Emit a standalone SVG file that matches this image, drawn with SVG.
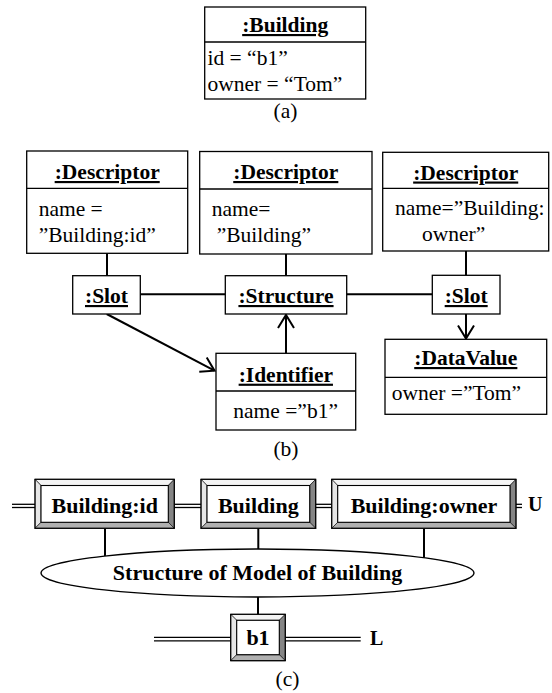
<svg xmlns="http://www.w3.org/2000/svg" width="552" height="693" viewBox="0 0 552 693">
  <style>
    text { font-family: "Liberation Serif", "Times New Roman", serif; font-size: 21.5px; fill: #000; }
    .hd { font-weight: bold; text-anchor: middle; text-decoration: underline; }
    .bd { font-weight: bold; text-anchor: middle; font-size: 22px; }
    .cap { text-anchor: middle; }
    .tag { font-weight: bold; font-size: 20px; }
    .box { fill: #fff; stroke: #000; stroke-width: 1.3; }
    .div { stroke: #000; stroke-width: 1.3; }
    .conn { stroke: #000; stroke-width: 2; fill: none; }
    .dbl { stroke: #000; stroke-width: 1.3; }
    .bv-top { fill: #f4f4f4; stroke: #000; stroke-width: 0.6; }
    .bv-left { fill: #e6e6e6; stroke: #000; stroke-width: 0.6; }
    .bv-right { fill: #858585; stroke: #000; stroke-width: 0.6; }
    .bv-bot { fill: #b0b0b0; stroke: #000; stroke-width: 0.6; }
    .bv-in { fill: #fff; stroke: #000; stroke-width: 1.1; }
    .bv-out { fill: none; stroke: #000; stroke-width: 1.2; }
  </style>
  <defs>
    <marker id="open" markerUnits="userSpaceOnUse" markerWidth="20" markerHeight="20" viewBox="-14 -10 16 20" refX="0" refY="0" orient="auto">
      <path d="M-13,-8 L0,0 L-13,8" fill="none" stroke="#000" stroke-width="2"/>
    </marker>
  </defs>

  <!-- (a) Building object -->
  <g id="building-a">
    <rect class="box" x="204.7" y="7" width="161" height="92"/>
    <line class="div" x1="204.7" y1="42" x2="365.7" y2="42"/>
    <text class="hd" x="285.2" y="32">:Building</text>
    <text x="207.5" y="64.5">id = “b1”</text>
    <text x="207.5" y="90.5">owner = “Tom”</text>
  </g>
  <text class="cap" x="285.5" y="118">(a)</text>

  <!-- (b) object diagram -->
  <g id="connectors-b">
    <line class="conn" x1="107" y1="253.3" x2="107" y2="275.7"/>
    <line class="conn" x1="286" y1="254" x2="286" y2="275.7"/>
    <line class="conn" x1="466" y1="251" x2="466" y2="275"/>
    <line class="conn" x1="140.3" y1="294.3" x2="225.3" y2="294.3"/>
    <line class="conn" x1="346.7" y1="294.3" x2="432.3" y2="294.3"/>
    <line class="conn" x1="286" y1="353.3" x2="286" y2="315" marker-end="url(#open)"/>
    <line class="conn" x1="466" y1="314" x2="466" y2="338.5" marker-end="url(#open)"/>
    <line class="conn" x1="106.7" y1="314" x2="214.5" y2="370.7" marker-end="url(#open)"/>
  </g>

  <g id="descriptor-id">
    <rect class="box" x="26.7" y="151" width="161" height="102.3"/>
    <line class="div" x1="26.7" y1="188.3" x2="187.7" y2="188.3"/>
    <text class="hd" x="107.2" y="179">:Descriptor</text>
    <text x="38.7" y="215.7">name =</text>
    <text x="38.7" y="242">”Building:id”</text>
  </g>

  <g id="descriptor-building">
    <rect class="box" x="199.7" y="151.5" width="172.3" height="102.5"/>
    <line class="div" x1="199.7" y1="189" x2="372" y2="189"/>
    <text class="hd" x="285.8" y="179">:Descriptor</text>
    <text x="211.7" y="216">name=</text>
    <text x="216.7" y="242">”Building”</text>
  </g>

  <g id="descriptor-owner">
    <rect class="box" x="382.7" y="152.3" width="166" height="98.7"/>
    <line class="div" x1="382.7" y1="188.3" x2="548.7" y2="188.3"/>
    <text class="hd" x="465.7" y="179.5">:Descriptor</text>
    <text x="395" y="215">name=”Building:</text>
    <text x="422" y="241">owner”</text>
  </g>

  <g id="slot-id">
    <rect class="box" x="72.7" y="275.7" width="67.6" height="38.3"/>
    <text class="hd" x="106.5" y="303">:Slot</text>
  </g>

  <g id="structure">
    <rect class="box" x="225.3" y="275.7" width="121.4" height="38.3"/>
    <text class="hd" x="286" y="303">:Structure</text>
  </g>

  <g id="slot-owner">
    <rect class="box" x="432.3" y="275.3" width="67.7" height="38.7"/>
    <text class="hd" x="466.2" y="303">:Slot</text>
  </g>

  <g id="identifier">
    <rect class="box" x="216" y="353.3" width="139.7" height="76.7"/>
    <line class="div" x1="216" y1="391" x2="355.7" y2="391"/>
    <text class="hd" x="285.8" y="381.7">:Identifier</text>
    <text x="233.3" y="418">name =”b1”</text>
  </g>

  <g id="datavalue">
    <rect class="box" x="385" y="339.3" width="161.7" height="75"/>
    <line class="div" x1="385" y1="377.3" x2="546.7" y2="377.3"/>
    <text class="hd" x="465.8" y="365">:DataValue</text>
    <text x="391.7" y="400">owner =”Tom”</text>
  </g>
  <text class="cap" x="286" y="456">(b)</text>

  <!-- (c) layered view -->
  <g id="connectors-c">
    <line class="dbl" x1="12" y1="504.3" x2="35" y2="504.3"/>
    <line class="dbl" x1="12" y1="507.5" x2="35" y2="507.5"/>
    <line class="dbl" x1="174.3" y1="504.3" x2="201" y2="504.3"/>
    <line class="dbl" x1="174.3" y1="507.5" x2="201" y2="507.5"/>
    <line class="dbl" x1="315.7" y1="504.3" x2="331.7" y2="504.3"/>
    <line class="dbl" x1="315.7" y1="507.5" x2="331.7" y2="507.5"/>
    <line class="dbl" x1="516" y1="504.3" x2="522" y2="504.3"/>
    <line class="dbl" x1="516" y1="507.5" x2="522" y2="507.5"/>
    <line class="dbl" x1="154" y1="637.3" x2="230.7" y2="637.3"/>
    <line class="dbl" x1="154" y1="640.8" x2="230.7" y2="640.8"/>
    <line class="dbl" x1="285.3" y1="637.3" x2="360.7" y2="637.3"/>
    <line class="dbl" x1="285.3" y1="640.8" x2="360.7" y2="640.8"/>
    <line class="conn" x1="105" y1="528.5" x2="105" y2="566"/>
    <line class="conn" x1="258.3" y1="528.5" x2="258.3" y2="566"/>
    <line class="conn" x1="424" y1="528.5" x2="424" y2="566"/>
    <line class="conn" x1="258" y1="580" x2="258" y2="614.3"/>
  </g>
  <text class="tag" x="528" y="510.5">U</text>
  <text class="tag" x="370" y="645">L</text>

  <g id="cell-building-id">
    <polygon class="bv-top" points="35,479.3 174.3,479.3 168.3,485.5 41,485.5"/>
    <polygon class="bv-left" points="35,479.3 41,485.5 41,522.3 35,528.3"/>
    <polygon class="bv-right" points="174.3,479.3 174.3,528.3 168.3,522.3 168.3,485.5"/>
    <polygon class="bv-bot" points="35,528.3 41,522.3 168.3,522.3 174.3,528.3"/>
    <rect class="bv-in" x="41" y="485.5" width="127.3" height="36.8"/>
    <rect class="bv-out" x="35" y="479.3" width="139.3" height="49"/>
    <text class="bd" x="104.7" y="513">Building:id</text>
  </g>

  <g id="cell-building">
    <polygon class="bv-top" points="201,479.3 315.7,479.3 309.7,485.5 207,485.5"/>
    <polygon class="bv-left" points="201,479.3 207,485.5 207,522.3 201,528.3"/>
    <polygon class="bv-right" points="315.7,479.3 315.7,528.3 309.7,522.3 309.7,485.5"/>
    <polygon class="bv-bot" points="201,528.3 207,522.3 309.7,522.3 315.7,528.3"/>
    <rect class="bv-in" x="207" y="485.5" width="102.7" height="36.8"/>
    <rect class="bv-out" x="201" y="479.3" width="114.7" height="49"/>
    <text class="bd" x="258.3" y="513">Building</text>
  </g>

  <g id="cell-building-owner">
    <polygon class="bv-top" points="331.7,479.3 516,479.3 510,485.5 337.7,485.5"/>
    <polygon class="bv-left" points="331.7,479.3 337.7,485.5 337.7,522.3 331.7,528.3"/>
    <polygon class="bv-right" points="516,479.3 516,528.3 510,522.3 510,485.5"/>
    <polygon class="bv-bot" points="331.7,528.3 337.7,522.3 510,522.3 516,528.3"/>
    <rect class="bv-in" x="337.7" y="485.5" width="172.3" height="36.8"/>
    <rect class="bv-out" x="331.7" y="479.3" width="184.3" height="49"/>
    <text class="bd" x="424" y="513">Building:owner</text>
  </g>

  <g id="structure-model">
    <ellipse cx="257.5" cy="573" rx="216.5" ry="24" fill="#fff" stroke="#000" stroke-width="1.3"/>
    <text class="bd" x="257.5" y="579.5">Structure of Model of Building</text>
  </g>

  <g id="cell-b1">
    <polygon class="bv-top" points="230.7,614.3 285.3,614.3 279.3,620.3 236.7,620.3"/>
    <polygon class="bv-left" points="230.7,614.3 236.7,620.3 236.7,654.7 230.7,660.7"/>
    <polygon class="bv-right" points="285.3,614.3 285.3,660.7 279.3,654.7 279.3,620.3"/>
    <polygon class="bv-bot" points="230.7,660.7 236.7,654.7 279.3,654.7 285.3,660.7"/>
    <rect class="bv-in" x="236.7" y="620.3" width="42.6" height="34.4"/>
    <rect class="bv-out" x="230.7" y="614.3" width="54.6" height="46.4"/>
    <text class="bd" x="258" y="645">b1</text>
  </g>
  <text class="cap" x="287.5" y="686">(c)</text>
</svg>
